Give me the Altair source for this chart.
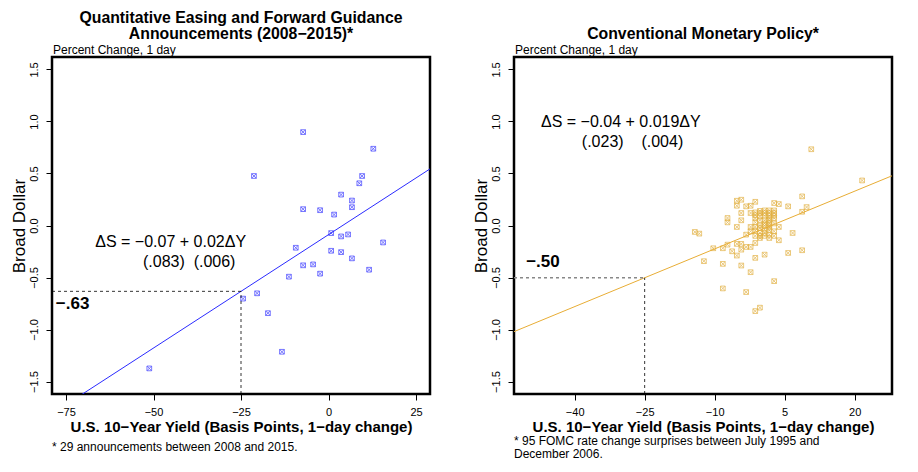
import altair as alt
import pandas as pd

FONT = "Liberation Sans"

# ---- Left panel: QE and forward guidance announcements (29 points)
qe_x = [-7.25, 12.8, -21.3, 9.6, 8.8, 3.6, 6.7, 6.7, -7.25, -2.4, 1.6, 0.76, 3.6, 5.6, 15.6,
        -9.35, 0.76, 3.6, 6.7, -7.25, -4.4, -2.4, 11.6, -11.3, -20.4, -24.4, -17.3, -13.3, -51.2]
qe_y = [0.898, 0.738, 0.476, 0.476, 0.406, 0.297, 0.24, 0.176, 0.157, 0.147, 0.105, -0.073, -0.105,
        -0.086, -0.163, -0.214, -0.243, -0.256, -0.316, -0.383, -0.374, -0.463, -0.425, -0.492,
        -0.652, -0.703, -0.843, -1.214, -1.374]

# ---- Right panel: FOMC rate change surprises (95 points)
fomc_x = [-14.25, -13.3, -12.3, -10.3,
          -8.25, -8.25, -8.25,
          -7.25, -7.25, -7.25,
          -6.25,
          -5.25, -5.25, -5.25, -5.25, -5.25,
          -4.3, -4.3, -4.3, -4.3, -4.3, -4.3,
          -3.25, -3.25, -3.25, -3.25,
          -2.3, -2.3, -2.3, -2.3, -2.3, -2.3,
          -1.3, -1.3, -1.3, -1.3, -1.3, -1.3, -1.3, -1.3, -1.3, -1.3, -1.3,
          -0.3, -0.3, -0.3, -0.3, -0.3, -0.3, -0.3, -0.3, -0.3, -0.3,
          0.7, 0.7, 0.7, 0.7, 0.7, 0.7, 0.7, 0.7, 0.7, 0.7,
          1.7, 1.7, 1.7, 1.7, 1.7, 1.7, 1.7, 1.7, 1.7, 1.7, 1.7,
          2.75, 2.75, 2.75, 2.75, 2.75, 2.75, 2.75, 2.75, 2.75,
          3.75, 3.75, 3.75,
          5.75, 5.75,
          6.7,
          8.75, 8.75, 8.75,
          9.7, 10.7, 21.6]
fomc_y = [-0.062, -0.078, -0.343, -0.219,
          -0.219, -0.369, -0.605,
          0.072, 0.030, -0.184,
          -0.248,
          0.238, 0.19, -0.014, -0.177, -0.289,
          0.248, 0.12, 0.05, -0.177, -0.232, -0.385,
          0.184, -0.088, -0.206, -0.64,
          0.19, 0.12, -0.014, -0.056, -0.206, -0.449,
          0.228, 0.126, 0.072, 0.03, -0.014, -0.168, -0.311, -0.823, 0.1, -0.05, -0.1,
          0.12, 0.088, -0.024, -0.072, -0.79, 0.14, 0.05, 0.0, -0.1, -0.12,
          0.145, 0.094, 0.05, 0.0, -0.072, -0.28, 0.12, 0.02, -0.04, -0.1,
          0.145, 0.094, 0.05, 0.0, -0.046, -0.088, -0.12, 0.12, 0.07, 0.02, -0.02,
          0.216, 0.145, 0.094, -0.056, -0.535, 0.12, 0.07, 0.02, -0.1,
          0.206, -0.014, -0.142,
          0.184, -0.264,
          -0.072,
          0.28, 0.132, -0.238,
          0.177, 0.733, 0.433]

# regression fits: [intercept, slope]
qe_fit = [-0.088, 0.0218]
fomc_fit = [-0.04, 0.0185]
# highlighted point on the fit at -25bp
qe_cut = [-25, -0.633]
fomc_cut = [-25, -0.503]

x_ticks_qe = [-75, -50, -25, 0, 25]
x_ticks_fomc = [-40, -25, -10, 5, 20]
y_ticks = [-1.5, -1.0, -0.5, 0.0, 0.5, 1.0, 1.5]
x_dom_qe = [-79, 29]
x_dom_fomc = [-53, 28]
y_dom = [-1.62, 1.62]

NB = "\u00a0"
qe_title = ["Quantitative Easing and Forward Guidance", "Announcements (2008\u22122015)*"]
fomc_title = ["", "Conventional Monetary Policy*"]
qe_eq = ["\u0394S = \u22120.07 + 0.02\u0394Y", "(.083)" + NB * 2 + "(.006)"]
fomc_eq = ["\u0394S = \u22120.04 + 0.019\u0394Y", "(.023)" + NB * 4 + "(.004)"]
qe_cut_label = "\u2212.63"
fomc_cut_label = "\u2212.50"
qe_foot = "* 29 announcements between 2008 and 2015."
fomc_foot = "* 95 FOMC rate change surprises between July 1995 and\nDecember 2006."
subtitle = "Percent Change, 1 day"
x_title = "U.S. 10\u2212Year Yield (Basis Points, 1\u2212day change)"
y_title = "Broad Dollar"

W, H = 378, 337
SQX = "M-1,-1H1V1H-1ZM-1,-1L1,1M-1,1L1,-1"


def text_layer(txt, x, y, size, weight="normal", align="center", baseline="middle", lh=None):
    kw = dict(font=FONT, fontSize=size, fontWeight=weight, align=align, baseline=baseline, color="black")
    if lh is not None:
        kw["lineBreak"] = "\n"
        kw["lineHeight"] = lh
    return alt.Chart(pd.DataFrame({"t": [txt]})).mark_text(**kw).encode(x=x, y=y, text="t:N")


def make_panel(px, py, fit, cut, xdom, xticks, pt_color, ln_color, hcolor, hwidth,
               title_lines, eq, eq_pos, cut_text, cut_pos, foot, foot_y):
    xs = alt.Scale(domain=xdom, nice=False, zero=False)
    ys = alt.Scale(domain=y_dom, nice=False, zero=False)
    xax = alt.Axis(values=xticks, format="d", title=x_title, labelFontSize=11, titleFontSize=15,
                   titleFontWeight="bold", labelPadding=6, titlePadding=2, tickSize=6,
                   labelExpr="replace(datum.label, '-', '\u2212')")
    yax = alt.Axis(values=y_ticks, format=".1f", title=y_title, labelAngle=-90, labelAlign="center",
                   labelBaseline="bottom", labelFontSize=11, labelPadding=7, titleFontSize=17,
                   titleFontWeight="normal", titlePadding=0, tickSize=6,
                   labelExpr="replace(datum.label, '-', '\u2212')")
    X = alt.X("x:Q", scale=xs, axis=xax)
    Y = alt.Y("y:Q", scale=ys, axis=yax)

    pts = alt.Chart(pd.DataFrame({"x": px, "y": py})).mark_point(
        shape=SQX, size=22, filled=False, strokeWidth=0.8, color=pt_color, opacity=0.85
    ).encode(x=X, y=Y)

    fit_df = pd.DataFrame({"x": xdom, "y": [fit[0] + fit[1] * v for v in xdom]})
    ln = alt.Chart(fit_df).mark_line(clip=True, color=ln_color, strokeWidth=1).encode(x=X, y=Y)

    hr = alt.Chart(pd.DataFrame({"x": [xdom[0]], "x2": [cut[0]], "y": [cut[1]]})).mark_rule(
        color=hcolor, strokeDash=[3, 3], strokeWidth=hwidth
    ).encode(x=X, x2="x2:Q", y=Y)
    vr = alt.Chart(pd.DataFrame({"x": [cut[0]], "y": [y_dom[0]], "y2": [cut[1]]})).mark_rule(
        color="black", strokeDash=[3, 3], strokeWidth=0.8
    ).encode(x=X, y=Y, y2="y2:Q")

    layers = [pts, ln, hr, vr]
    layers.append(text_layer(eq[0], alt.datum(eq_pos[0][0]), alt.datum(eq_pos[0][1]), 16))
    layers.append(text_layer(eq[1], alt.datum(eq_pos[1][0]), alt.datum(eq_pos[1][1]), 16))
    layers.append(text_layer(cut_text, alt.datum(cut_pos[0]), alt.datum(cut_pos[1]), 17,
                             weight="bold", align="left"))
    # titles above the plot
    if title_lines[0]:
        layers.append(text_layer(title_lines[0], alt.value(W / 2), alt.value(-46), 15.8,
                                 weight="bold", baseline="top"))
    layers.append(text_layer(title_lines[1], alt.value(W / 2), alt.value(-30.5), 15.8,
                             weight="bold", baseline="top"))
    layers.append(text_layer(subtitle, alt.value(1), alt.value(-3.5), 12, align="left",
                             baseline="alphabetic"))
    layers.append(text_layer(foot, alt.value(0), alt.value(foot_y), 12, align="left",
                             baseline="alphabetic", lh=12.5))
    return alt.layer(*layers).properties(width=W, height=H)


left = make_panel(qe_x, qe_y, qe_fit, qe_cut, x_dom_qe, x_ticks_qe, "#3a3aff", "#2b2bff",
                  "black", 0.8, qe_title, qe_eq, [(-45.1, -0.16), (-39.8, -0.35)],
                  qe_cut_label, (-77.9, -0.755), qe_foot, 394)
right = make_panel(fomc_x, fomc_y, fomc_fit, fomc_cut, x_dom_fomc, x_ticks_fomc, "#e2b040",
                   "#e8ad35", "#888888", 1.4, fomc_title, fomc_eq,
                   [(-30.1, 0.992), (-27.6, 0.80)], fomc_cut_label, (-50.4, -0.347), fomc_foot, 388)

chart = alt.hconcat(left, right, spacing=38).properties(padding=0).configure_view(
    stroke="black", strokeWidth=2.5
).configure_axis(
    labelFont=FONT, titleFont=FONT, labelColor="black", titleColor="black", tickColor="black",
    domain=False, grid=False, tickWidth=1
)

chart.save("out.html", embed_options={"renderer": "svg", "actions": False})
